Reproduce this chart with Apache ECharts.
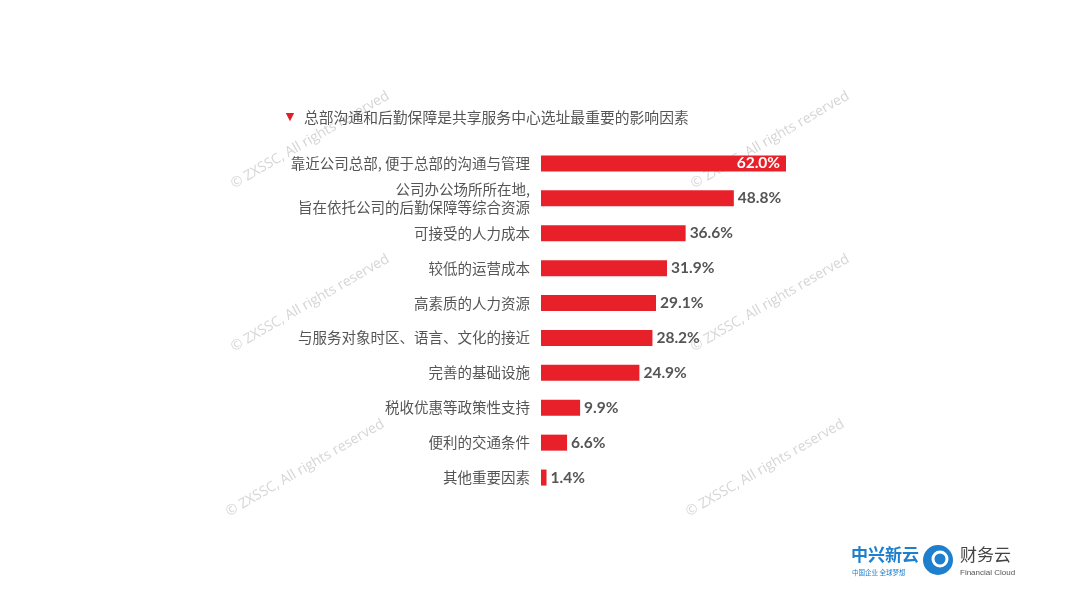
<!DOCTYPE html>
<html>
<head>
<meta charset="utf-8">
<script src="https://cdn.jsdelivr.net/npm/echarts@6/dist/echarts.min.js"></script>
<style>html,body{margin:0;padding:0;background:#fff}#c{width:1080px;height:607px}</style>
</head>
<body>
<div id="c"></div>
<script>
const categories = [
  '靠近公司总部, 便于总部的沟通与管理',
  '公司办公场所所在地,\n旨在依托公司的后勤保障等综合资源',
  '可接受的人力成本',
  '较低的运营成本',
  '高素质的人力资源',
  '与服务对象时区、语言、文化的接近',
  '完善的基础设施',
  '税收优惠等政策性支持',
  '便利的交通条件',
  '其他重要因素'
];
const values = [62.0, 48.8, 36.6, 31.9, 29.1, 28.2, 24.9, 9.9, 6.6, 1.4];
const titleText = '总部沟通和后勤保障是共享服务中心选址最重要的影响因素';
const watermark = '© ZXSSC, All rights reserved';

const font = '"Noto Sans CJK SC", "Noto Sans", sans-serif';
const chart = echarts.init(document.getElementById('c'));
const wmPos = [[310,140],[770,140],[310,303],[770,303],[305,468],[765,468]];
const graphics = wmPos.map(p => ({
  type: 'text', x: p[0], y: p[1], rotation: Math.PI/6, z: 0,
  style: { text: watermark, fill: '#d6d6d6', font: '14px "Open Sans", sans-serif', textAlign: 'center', textVerticalAlign: 'middle' }
}));
graphics.push(
  { type: 'text', x: 290, y: 117, style: { text: '▼', fill: '#e31e24', font: '11px "DejaVu Sans"', textAlign: 'center', textVerticalAlign: 'middle' } },
  { type: 'text', x: 304, y: 117, style: { text: titleText, fill: '#555', font: '14.8px ' + font, textVerticalAlign: 'middle' } },
  { type: 'text', x: 851, y: 555, style: { text: '中兴新云', fill: '#1d7fce', font: 'bold 17px ' + font, textVerticalAlign: 'middle' } },
  { type: 'text', x: 852, y: 573, style: { text: '中国企业 全球梦想', fill: '#1d7fce', font: '6.5px ' + font, textVerticalAlign: 'middle' } },
  { type: 'circle', shape: { cx: 938, cy: 560, r: 15 }, style: { fill: '#1d7fce' } },
  { type: 'circle', shape: { cx: 940, cy: 559, r: 7 }, style: { fill: 'none', stroke: '#fff', lineWidth: 3 } },
  { type: 'text', x: 960, y: 555, style: { text: '财务云', fill: '#444', font: '17px ' + font, textVerticalAlign: 'middle' } },
  { type: 'text', x: 960, y: 573, style: { text: 'Financial Cloud', fill: '#555', font: '8px "Liberation Sans", sans-serif', textVerticalAlign: 'middle' } }
);
chart.setOption({
  animation: false,
  grid: { left: 541, right: 294, top: 146, height: 349, containLabel: false },
  xAxis: { type: 'value', min: 0, max: 62, show: false },
  yAxis: {
    type: 'category', data: categories, inverse: true,
    axisLine: { show: false }, axisTick: { show: false },
    axisLabel: { color: '#555', fontSize: 14.5, fontFamily: font, margin: 11, lineHeight: 18, align: 'right' }
  },
  series: [{
    type: 'bar', data: values.map((v, i) => ({
      value: v,
      label: i === 0 ? { position: 'insideRight', color: '#fff', offset: [-2, 0] } : {}
    })),
    barWidth: 16, z: 5,
    itemStyle: { color: '#e8202a' },
    label: { show: true, position: 'right', distance: 4, color: '#555', fontSize: 15.5, fontWeight: 'bold', fontFamily: '"Lato", "Noto Sans", sans-serif', formatter: p => p.value.toFixed(1) + '%' }
  }],
  graphic: graphics
});
</script>
</body>
</html>
